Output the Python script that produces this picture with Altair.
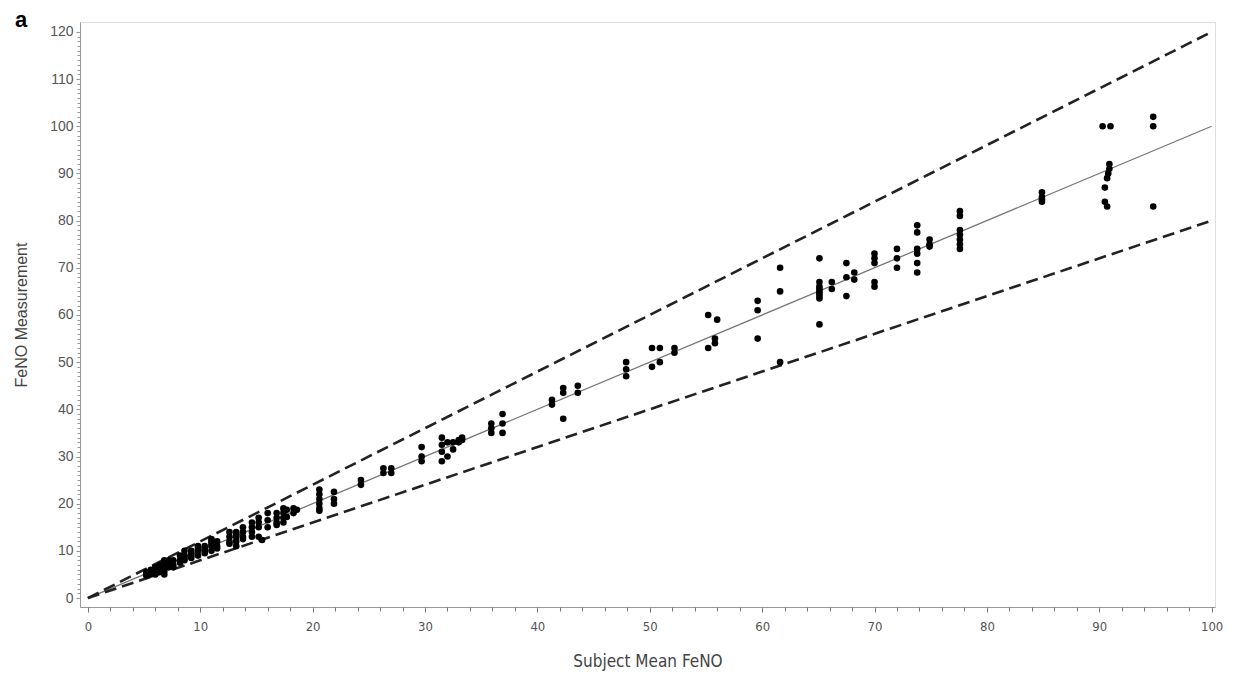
import altair as alt
import pandas as pd

# Scatter data: subject mean FeNO (x) vs individual measurement (y)
xs = [
    5.2, 5.2, 5.2, 5.6, 5.6, 5.6, 6.0, 6.0, 6.0, 6.0,
    6.4, 6.4, 6.4, 6.4, 6.8, 6.8, 6.8, 6.8, 6.8, 7.2,
    7.2, 7.2, 7.2, 7.6, 7.6, 7.6, 8.2, 8.2, 8.2, 8.6,
    8.6, 8.6, 8.6, 9.2, 9.2, 9.2, 9.2, 9.8, 9.8, 9.8,
    9.8, 10.4, 10.4, 10.4, 10.4, 11.0, 11.0, 11.0, 11.0, 11.0,
    11.5, 11.5, 11.5, 12.6, 12.6, 12.6, 12.6, 13.2, 13.2, 13.2,
    13.2, 13.2, 13.8, 13.8, 13.8, 13.8, 14.6, 14.6, 14.6, 14.6,
    15.2, 15.2, 15.2, 15.2, 15.5, 16.0, 16.0, 16.0, 16.8, 16.8,
    16.8, 16.8, 17.4, 17.4, 17.4, 17.4, 17.7, 17.7, 18.3, 18.3,
    18.6, 20.6, 20.6, 20.6, 20.6, 20.6, 20.6, 21.9, 21.9, 21.9,
    24.3, 24.3, 26.3, 26.3, 27.0, 27.0, 29.7, 29.7, 29.7, 31.5,
    31.5, 31.5, 31.5, 32.0, 32.0, 32.5, 32.5, 33.0, 33.0, 33.3,
    33.3, 35.9, 35.9, 35.9, 36.9, 36.9, 36.9, 41.3, 41.3, 42.3,
    42.3, 42.3, 43.6, 43.6, 47.9, 47.9, 47.9, 50.2, 50.2, 50.9,
    50.9, 52.2, 52.2, 55.2, 55.2, 55.8, 55.8, 56.0, 59.6, 59.6,
    59.6, 61.6, 61.6, 61.6, 65.1, 65.1, 65.1, 65.1, 65.1, 65.1,
    65.1, 65.1, 65.1, 66.2, 66.2, 67.5, 67.5, 67.5, 68.2, 68.2,
    70.0, 70.0, 70.0, 70.0, 70.0, 72.0, 72.0, 72.0, 73.8, 73.8,
    73.8, 73.8, 73.8, 73.8, 74.9, 74.9, 74.9, 77.6, 77.6, 77.6,
    77.6, 77.6, 77.6, 77.6, 84.9, 84.9, 84.9, 84.9, 90.3, 91.0,
    90.9, 90.9, 90.8, 90.7, 90.5, 90.5, 90.7, 94.8, 94.8, 94.8,
]
ys = [
    5.0, 5.5, 4.8, 5.0, 6.0, 5.5, 5.0, 6.0, 6.5, 5.5,
    6.0, 7.0, 5.5, 6.5, 6.0, 7.0, 8.0, 5.0, 6.5, 7.0,
    8.0, 6.5, 7.5, 7.0, 8.0, 6.5, 8.0, 9.0, 7.5, 8.0,
    9.0, 10.0, 8.5, 9.0, 10.0, 8.5, 9.5, 10.0, 11.0, 9.0,
    10.5, 10.0, 11.0, 9.5, 10.5, 11.0, 12.0, 10.0, 11.5, 12.5,
    11.0, 12.0, 10.5, 12.0, 13.0, 14.0, 11.5, 13.0, 14.0, 12.0,
    13.5, 11.0, 13.0, 14.0, 15.0, 12.5, 14.0, 15.0, 16.0, 13.0,
    15.0, 17.0, 13.0, 16.0, 12.3, 15.0, 16.5, 18.0, 16.0, 17.0,
    18.0, 15.5, 17.0, 18.0, 16.0, 19.0, 18.7, 17.2, 18.0, 19.0,
    18.7, 19.0, 20.0, 21.0, 22.0, 23.0, 18.5, 20.0, 21.0, 22.5,
    24.0, 25.0, 26.5, 27.5, 26.5, 27.5, 32.0, 30.0, 29.0, 34.0,
    32.5, 31.0, 29.0, 33.0, 30.0, 33.0, 31.5, 33.5, 33.0, 34.0,
    33.5, 37.0, 36.0, 35.0, 39.0, 37.0, 35.0, 42.0, 41.0, 44.5,
    43.5, 38.0, 45.0, 43.5, 50.0, 48.5, 47.0, 53.0, 49.0, 53.0,
    50.0, 53.0, 52.0, 60.0, 53.0, 55.0, 54.0, 59.0, 63.0, 61.0,
    55.0, 70.0, 65.0, 50.0, 72.0, 67.0, 66.0, 65.5, 65.0, 64.5,
    64.0, 63.5, 58.0, 67.0, 65.5, 71.0, 68.0, 64.0, 69.0, 67.5,
    73.0, 72.0, 71.0, 67.0, 66.0, 74.0, 72.0, 70.0, 79.0, 77.5,
    74.0, 73.0, 71.0, 69.0, 76.0, 75.0, 74.5, 82.0, 81.0, 78.0,
    77.0, 76.0, 75.0, 74.0, 86.0, 85.0, 84.5, 84.0, 100.0, 100.0,
    92.0, 91.0, 90.0, 89.0, 87.0, 84.0, 83.0, 102.0, 100.0, 83.0,
]

# Reference lines: identity and +/-20% limits
line_x = [0, 100]
identity_y = [0, 100]
upper_y = [0, 120]
lower_y = [0, 80]

x_major = list(range(0, 101, 10))
y_major = list(range(0, 121, 10))
x_minor = list(range(0, 101, 2))
y_minor = list(range(0, 121, 1))

points = pd.DataFrame({"x": xs, "y": ys})
ident = pd.DataFrame({"x": line_x, "y": identity_y})
limits = pd.concat([
    pd.DataFrame({"x": line_x, "y": upper_y, "g": "upper"}),
    pd.DataFrame({"x": line_x, "y": lower_y, "g": "lower"}),
])

xscale = alt.Scale(domain=[-0.7, 100.3], nice=False, zero=False)
yscale = alt.Scale(domain=[-1.9, 122.1], nice=False, zero=False)

narrow = "DejaVu Sans Condensed, Liberation Sans, sans-serif"
sans = "Liberation Sans, Arial, sans-serif"

xaxis = alt.Axis(
    title="Subject Mean FeNO", values=x_major, orient="bottom",
    labelOverlap=False,
    grid=False, tickSize=5, labelFontSize=13, labelPadding=8,
    labelFont=narrow, titleFont=narrow,
    titleFontSize=17, titlePadding=20, titleFontWeight="normal",
    titleColor="#444", labelColor="#555", domainColor="#999", tickColor="#777",
)
yaxis = alt.Axis(
    title="FeNO Measurement", values=y_major, orient="left",
    labelOverlap=False,
    grid=False, tickSize=4, labelFontSize=14, labelPadding=3,
    labelFont=sans, titleFont=sans,
    titleFontSize=16, titlePadding=20, titleFontWeight="normal",
    titleColor="#444", labelColor="#555", domainColor="#999", tickColor="#888",
)
xaxis_minor = alt.Axis(
    title=None, values=x_minor, orient="bottom", labels=False, domain=False,
    grid=False, tickSize=4, tickColor="#777",
)
yaxis_minor = alt.Axis(
    title=None, values=y_minor, orient="left", labels=False, domain=False,
    grid=False, tickSize=3, tickColor="#999",
)

ident_line = alt.Chart(ident).mark_line(color="#777", strokeWidth=1.3).encode(
    x=alt.X("x:Q", scale=xscale, axis=xaxis),
    y=alt.Y("y:Q", scale=yscale, axis=yaxis),
)
minor = alt.Chart(ident).mark_point(opacity=0).encode(
    x=alt.X("x:Q", scale=xscale, axis=xaxis_minor),
    y=alt.Y("y:Q", scale=yscale, axis=yaxis_minor),
)
limit_lines = alt.Chart(limits).mark_line(
    color="#222", strokeWidth=2.6, strokeDash=[12, 6]
).encode(
    x=alt.X("x:Q", axis=None),
    y=alt.Y("y:Q", axis=None),
    detail="g:N",
)

dots = alt.Chart(points).mark_circle(size=44, color="black", opacity=1).encode(
    x=alt.X("x:Q", axis=None),
    y=alt.Y("y:Q", axis=None),
)

label = alt.Chart(pd.DataFrame({"t": ["a"]})).mark_text(
    align="left", baseline="alphabetic", fontSize=22, fontWeight="bold",
    font=sans, color="black"
).encode(x=alt.value(-65), y=alt.value(5), text="t:N")

chart = alt.layer(ident_line, minor, limit_lines, dots, label).resolve_axis(
    x="independent", y="independent"
).properties(
    width=1135, height=585,
    autosize=alt.AutoSizeParams(type="none"),
    padding={"left": 72, "top": 14, "right": 12, "bottom": 65},
).configure_view(stroke="#999", strokeWidth=1.5).configure(background="white")

chart.save("out.html", embed_options={"renderer": "svg", "actions": False})
